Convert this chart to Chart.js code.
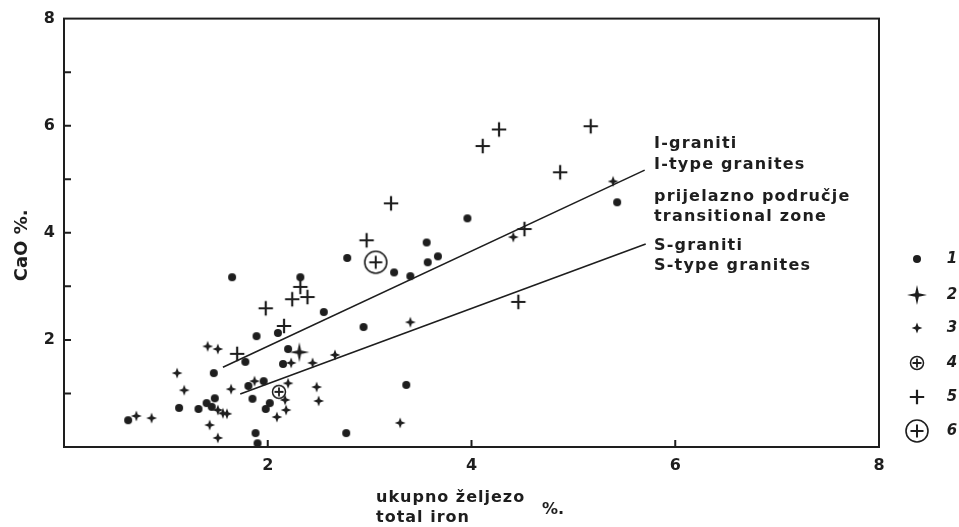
<!DOCTYPE html>
<html>
<head>
<meta charset="utf-8">
<script src="https://cdn.jsdelivr.net/npm/chart.js@4"></script>
<style>
	html, body { margin: 0; padding: 0; background: #fff; }
</style>
</head>
<body>
<canvas id="myChart" width="959" height="527"></canvas>
<script>
// total iron % (x) vs CaO % (y), one list per symbol group
const group1 = [[5.43,4.57],[3.96,4.27],[3.56,3.82],[2.78,3.53],[3.24,3.26],[3.40,3.19],[3.57,3.45],[3.67,3.56],
	[2.94,2.24],[3.36,1.16],[2.77,0.26],[1.65,3.17],[2.32,3.17],[2.55,2.52],[2.10,2.13],[1.89,2.07],[1.78,1.59],
	[2.20,1.83],[2.15,1.55],[1.47,1.38],[1.81,1.14],[1.96,1.23],[1.85,0.90],[2.02,0.82],[1.98,0.71],[1.88,0.26],
	[1.90,0.07],[1.13,0.73],[1.32,0.71],[1.48,0.91],[1.40,0.82],[1.45,0.75],[0.63,0.50]];
const group2 = [[2.31,1.77]];
const group3 = [[5.39,4.96],[4.41,3.92],[3.40,2.33],[2.66,1.72],[3.30,0.45],[1.41,1.88],[1.51,1.83],[2.23,1.57],
	[2.44,1.57],[1.11,1.38],[1.18,1.06],[1.64,1.08],[1.87,1.23],[2.20,1.19],[2.48,1.12],[2.50,0.86],[2.17,0.88],
	[2.18,0.69],[2.09,0.56],[1.43,0.41],[1.51,0.17],[0.71,0.58],[0.86,0.54],[1.51,0.69],[1.56,0.63],[1.60,0.62]];
const group4 = [[2.11,1.03]];
const group5 = [[4.27,5.93],[4.11,5.62],[5.17,5.99],[4.87,5.13],[4.52,4.07],[3.21,4.55],[2.97,3.86],[4.46,2.71],
	[2.32,2.99],[2.24,2.76],[2.39,2.80],[1.98,2.59],[2.16,2.26],[1.70,1.74]];
const group6 = [[3.06,3.45]];

// boundary lines
const iTypeLine = [[1.56,1.49],[5.70,5.17]];
const sTypeLine = [[1.73,0.99],[5.71,3.79]];

const xTickLabels = [2, 4, 6, 8];
const yTickLabels = [2, 4, 6, 8];
const legendLabels = ['1', '2', '3', '4', '5', '6'];
const zoneLabels = ['I-graniti', 'I-type granites', 'prijelazno područje', 'transitional zone', 'S-graniti', 'S-type granites'];

const ink = '#1e1e1e';
const fontFam = '"DejaVu Sans", sans-serif';

function toXY(list) {
	return list.map(p => ({ x: p[0], y: p[1] }));
}

// little canvases used as point symbols
function marker(kind) {
	const size = 28;
	const c = document.createElement('canvas');
	c.width = c.height = size;
	const g = c.getContext('2d');
	const m = size / 2;
	g.fillStyle = ink;
	g.strokeStyle = ink;

	function star(outer, inner) {
		g.beginPath();
		for (let k = 0; k < 8; k++) {
			const a = k * Math.PI / 4 - Math.PI / 2;
			const r = k % 2 === 0 ? outer : inner;
			g.lineTo(m + r * Math.cos(a), m + r * Math.sin(a));
		}
		g.closePath();
		g.fill();
	}
	function plus(arm, w) {
		g.lineWidth = w;
		g.beginPath();
		g.moveTo(m - arm, m); g.lineTo(m + arm, m);
		g.moveTo(m, m - arm); g.lineTo(m, m + arm);
		g.stroke();
	}

	if (kind === 1) {
		g.beginPath(); g.arc(m, m, 4, 0, Math.PI * 2); g.fill();
	} else if (kind === 2) {
		star(10, 2.6);
	} else if (kind === 3) {
		star(5.4, 2.1);
	} else if (kind === 4) {
		g.lineWidth = 1.5;
		g.beginPath(); g.arc(m, m, 6.5, 0, Math.PI * 2); g.stroke();
		plus(4.5, 1.8);
	} else if (kind === 5) {
		plus(7.2, 2.2);
	} else {
		g.lineWidth = 1.6;
		g.beginPath(); g.arc(m, m, 11, 0, Math.PI * 2); g.stroke();
		plus(6.5, 2);
	}
	return c;
}

const marks = [1, 2, 3, 4, 5, 6].map(marker);

// frame, inward ticks, labels in the plot, x title, legend
const decorations = {
	id: 'decorations',
	afterDraw(chart) {
		const { ctx, chartArea: a, scales: { x, y } } = chart;
		ctx.save();
		ctx.strokeStyle = ink;
		ctx.lineWidth = 2;
		ctx.strokeRect(a.left, a.top, a.right - a.left, a.bottom - a.top);

		ctx.beginPath();
		for (let v = 1; v < 8; v++) {
			const py = y.getPixelForValue(v);
			ctx.moveTo(a.left, py); ctx.lineTo(a.left + 7, py);
		}
		for (const v of [2, 4, 6]) {
			const px = x.getPixelForValue(v);
			ctx.moveTo(px, a.bottom); ctx.lineTo(px, a.bottom - 7);
		}
		ctx.stroke();

		ctx.fillStyle = ink;
		ctx.textBaseline = 'middle';
		ctx.textAlign = 'left';
		ctx.font = 'bold 16px ' + fontFam;
		ctx.letterSpacing = '1.2px';
		const rows = [125, 146, 178, 198, 227, 247];
		zoneLabels.forEach((t, i) => ctx.fillText(t, a.right - 225, a.top + rows[i]));

		ctx.letterSpacing = '1px';
		ctx.fillText('ukupno željezo', 376, 498);
		ctx.fillText('total iron', 376, 518);
		ctx.letterSpacing = '0px';
		ctx.fillText('%.', 542, 510);

		const ly = [259, 295, 328, 363, 397, 431];
		ctx.font = 'italic bold 15px ' + fontFam;
		ctx.textAlign = 'center';
		legendLabels.forEach((t, i) => {
			const img = marks[i];
			ctx.drawImage(img, 917 - img.width / 2, ly[i] - img.height / 2);
			ctx.fillText(t, 952, ly[i]);
		});
		ctx.restore();
	}
};

const pointSet = (data, i) => ({
	data: toXY(data),
	pointStyle: marks[i],
	pointRadius: 6,
	showLine: false
});
const lineSet = data => ({
	data: toXY(data),
	showLine: true,
	pointRadius: 0,
	borderColor: ink,
	borderWidth: 1.6,
	fill: false
});

new Chart(document.getElementById('myChart'), {
	type: 'scatter',
	data: {
		datasets: [
			lineSet(iTypeLine),
			lineSet(sTypeLine),
			pointSet(group1, 0),
			pointSet(group2, 1),
			pointSet(group3, 2),
			pointSet(group4, 3),
			pointSet(group5, 4),
			pointSet(group6, 5)
		]
	},
	options: {
		responsive: false,
		animation: false,
		devicePixelRatio: 1,
		layout: { padding: { top: 18, right: 80, left: 0, bottom: 0 } },
		plugins: {
			legend: { display: false },
			tooltip: { enabled: false }
		},
		scales: {
			x: {
				type: 'linear', min: 0, max: 8,
				afterFit: s => { s.height = 80; },
				grid: { display: false, drawTicks: false },
				border: { display: false },
				ticks: {
					stepSize: 1, padding: 9, color: ink, maxRotation: 0,
					font: { family: fontFam, size: 16, weight: 'bold' },
					callback: v => xTickLabels.includes(v) ? String(v) : ''
				}
			},
			y: {
				type: 'linear', min: 0, max: 8,
				afterFit: s => { s.width = 64; },
				grid: { display: false, drawTicks: false },
				border: { display: false },
				ticks: {
					stepSize: 1, padding: 9, color: ink,
					font: { family: fontFam, size: 16, weight: 'bold' },
					callback: v => yTickLabels.includes(v) ? String(v) : ''
				},
				title: {
					display: true, text: 'CaO %.    ', color: ink,
					font: { family: fontFam, size: 18, weight: 'bold' },
					padding: { top: 12, bottom: 0 }
				}
			}
		}
	},
	plugins: [decorations]
});
</script>
</body>
</html>
